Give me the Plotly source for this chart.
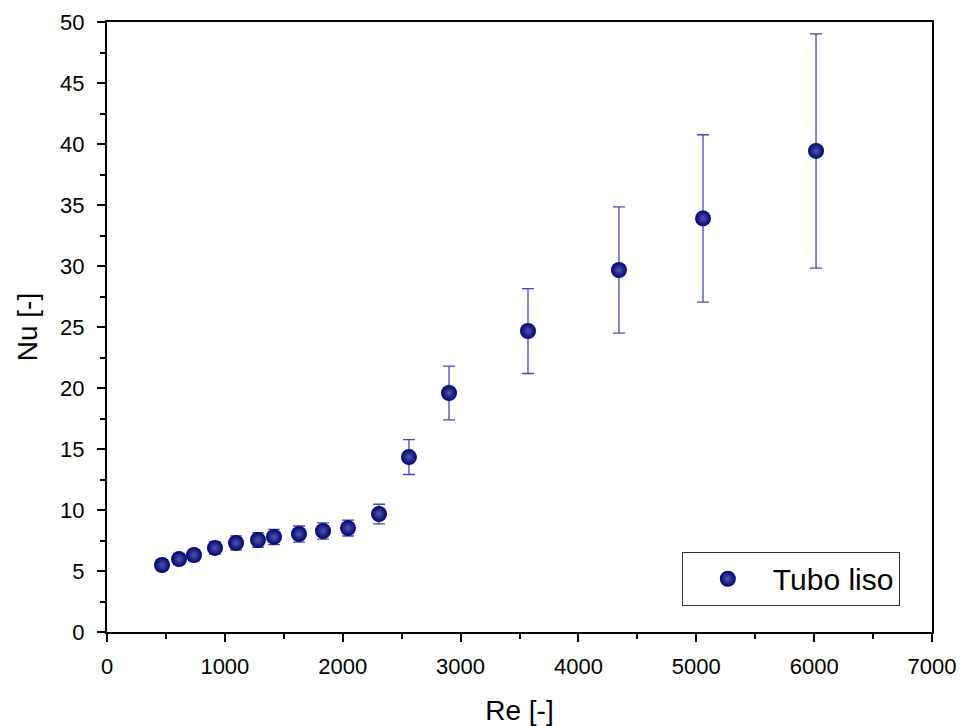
import plotly.graph_objects as go

re_vals = [467, 611, 738, 916, 1095, 1281, 1417, 1629, 1833, 2045, 2308,
           2562, 2902, 3572, 4344, 5057, 6016]
nu_vals = [5.49, 5.98, 6.31, 6.89, 7.30, 7.54, 7.79, 8.03, 8.28, 8.52, 9.67,
           14.34, 19.59, 24.67, 29.67, 33.90, 39.43]
nu_err = [0.40, 0.42, 0.45, 0.50, 0.58, 0.60, 0.63, 0.66, 0.66, 0.65, 0.80,
          1.43, 2.21, 3.48, 5.17, 6.86, 9.60]

x_ticks = [0, 1000, 2000, 3000, 4000, 5000, 6000, 7000]
y_ticks = [0, 5, 10, 15, 20, 25, 30, 35, 40, 45, 50]

FONT = "Liberation Sans, Arial"

fig = go.Figure()
fig.add_trace(go.Scatter(
    x=re_vals, y=nu_vals, mode="markers", name="Tubo liso",
    marker=dict(size=16, color="#000070",
                gradient=dict(type="radial", color="#4a5aa8"),
                line=dict(width=0)),
    error_y=dict(type="data", array=nu_err, visible=True,
                 color="#4848b0", thickness=1.3, width=6),
))

axis_common = dict(
    showline=True, linecolor="black", linewidth=2, mirror=True,
    ticks="outside", ticklen=8, tickwidth=1.5, tickcolor="black",
    showgrid=False, zeroline=False, automargin=False,
    tickfont=dict(family=FONT, size=22, color="black"),
    title_font=dict(family=FONT, size=28, color="black"),
)

fig.update_xaxes(range=[0, 7000], tickvals=x_ticks, ticklabelstandoff=6,
                 minor=dict(ticks="outside", ticklen=5, tickwidth=1.5,
                            tickcolor="black", dtick=500),
                 title_text="Re [-]", title_standoff=25, **axis_common)
fig.update_yaxes(range=[0, 50], tickvals=y_ticks, ticklabelstandoff=8,
                 minor=dict(ticks="outside", ticklen=5, tickwidth=1.5,
                            tickcolor="black", dtick=2.5),
                 title_text="Nu [-]", title_standoff=14, **axis_common)

fig.update_layout(
    width=960, height=726,
    margin=dict(l=107, r=28, t=22, b=94),
    plot_bgcolor="white", paper_bgcolor="white",
    showlegend=True,
    legend=dict(x=0.961, y=0.043, xanchor="right", yanchor="bottom",
                bordercolor="#333333", borderwidth=1, bgcolor="white",
                font=dict(family=FONT, size=30, color="black"),
                itemwidth=80),
)

fig.write_html("out.html")
